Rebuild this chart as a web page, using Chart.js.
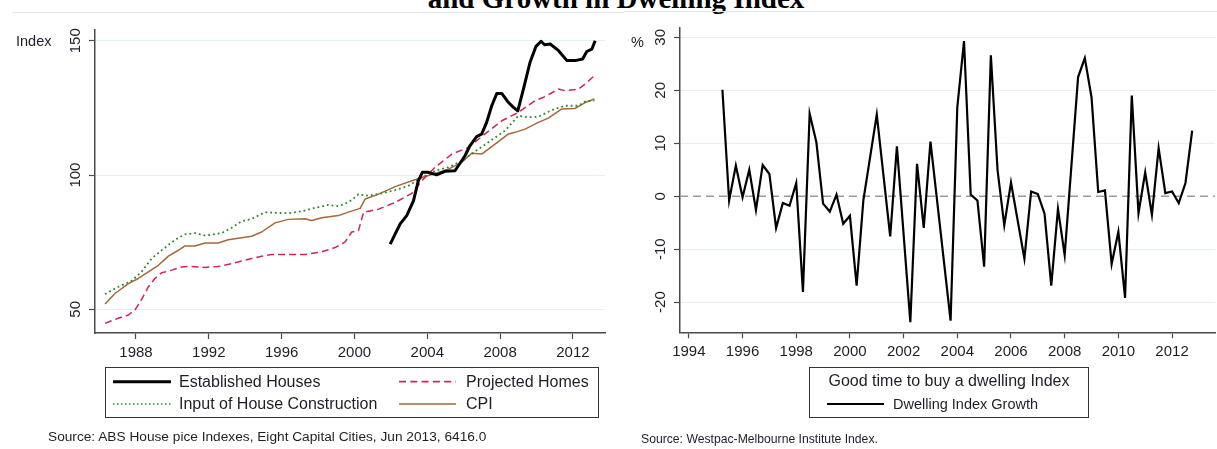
<!DOCTYPE html>
<html><head><meta charset="utf-8">
<script src="https://cdn.jsdelivr.net/npm/chart.js@4.4.0/dist/chart.umd.min.js"></script>
<style>
html,body{margin:0;padding:0;background:#fff;width:1217px;height:449px;overflow:hidden;font-family:'Liberation Sans',Arial,sans-serif;color:#1e1e28}
.abs{position:absolute;white-space:nowrap;line-height:1}
#c1{position:absolute;left:0;top:0}
#c2{position:absolute;left:612px;top:0}
.box{position:absolute;border:1px solid #333;box-sizing:border-box}
svg.ln{position:absolute;overflow:visible}
</style></head>
<body>
<div class="abs" style="left:0;width:1232px;text-align:center;top:-18.3px;font:bold 29px 'Liberation Serif',serif;color:#000">and Growth in Dwelling Index</div>
<div style="position:absolute;left:12px;top:12px;width:612px;height:1px;background:#e1e8eb"></div>
<div style="position:absolute;left:624px;top:11px;width:593px;height:1px;background:#e1e8eb"></div>

<canvas id="c1" width="612" height="449"></canvas>
<canvas id="c2" width="605" height="449"></canvas>

<div class="abs" style="left:16px;top:33.5px;font-size:14.5px">Index</div>
<div class="abs" style="left:631px;top:34.5px;font-size:14.5px">%</div>

<!-- left legend -->
<div class="box" style="left:105px;top:367px;width:494px;height:51px"></div>
<svg class="ln" style="left:113px;top:376px" width="58" height="12"><line x1="0" y1="5.7" x2="58" y2="5.7" stroke="#000" stroke-width="3"/></svg>
<div class="abs" style="left:179px;top:373.9px;font-size:16px">Established Houses</div>
<svg class="ln" style="left:399px;top:376px" width="57" height="12"><line x1="0" y1="5.7" x2="57" y2="5.7" stroke="#d42356" stroke-width="1.8" stroke-dasharray="7 4.3"/></svg>
<div class="abs" style="left:466px;top:373.9px;font-size:16px">Projected Homes</div>
<svg class="ln" style="left:113px;top:398px" width="58" height="12"><line x1="0" y1="6" x2="58" y2="6" stroke="#2a8a2a" stroke-width="1.5" stroke-dasharray="1.5 2.5"/></svg>
<div class="abs" style="left:179px;top:396.2px;font-size:16px">Input of House Construction</div>
<svg class="ln" style="left:399px;top:398px" width="57" height="12"><line x1="0" y1="6" x2="57" y2="6" stroke="#a5683a" stroke-width="1.6"/></svg>
<div class="abs" style="left:466px;top:396.2px;font-size:16px">CPI</div>
<div class="abs" style="left:47.7px;top:430.8px;font-size:12.5px;transform:scaleX(1.095);transform-origin:0 0">Source: ABS House pice Indexes, Eight Capital Cities, Jun 2013, 6416.0</div>

<!-- right legend -->
<div class="box" style="left:809px;top:367px;width:280px;height:51px"></div>
<div class="abs" style="left:809px;width:280px;text-align:center;top:373.2px;font-size:16px">Good time to buy a dwelling Index</div>
<svg class="ln" style="left:827px;top:398px" width="57" height="12"><line x1="0" y1="6" x2="57" y2="6" stroke="#000" stroke-width="2.2"/></svg>
<div class="abs" style="left:893px;top:396.7px;font-size:14.5px">Dwelling Index Growth</div>
<div class="abs" style="left:641px;top:433px;font-size:12.2px">Source: Westpac-Melbourne Institute Index.</div>

<script>
// ---------- Left chart data (index) ----------
const LEFT_X_TICKS = [1988, 1992, 1996, 2000, 2004, 2008, 2012];
const LEFT_Y_TICKS = [50, 100, 150];

const estYears = [2001.96,2002.51,2002.87,2003.24,2003.51,2003.73,2004.05,2004.51,2004.97,2005.52,2005.79,2006.07,2006.34,2006.71,2006.99,2007.26,2007.54,2007.82,2008.09,2008.46,2008.73,2008.97,2009.28,2009.64,2009.96,2010.25,2010.44,2010.75,2011.21,2011.67,2012.12,2012.53,2012.76,2013.04,2013.22];
const estValues = [74.3,81.8,84.9,90.4,97.9,101.0,101.0,100.1,101.4,101.6,104.3,107.2,110.9,114.3,115.3,119.6,125.8,130.4,130.4,127.0,125.2,123.9,132.0,141.9,147.8,149.8,148.5,148.8,146.3,142.6,142.6,143.2,146.0,146.9,150.0];

const projYears = [1986.3,1987.03,1987.58,1987.95,1988.31,1988.68,1989.04,1989.41,1989.96,1990.51,1991.06,1991.79,1992.52,1993.26,1993.8,1994.36,1994.9,1995.45,1996.37,1997.29,1998.2,1998.93,1999.48,1999.85,2000.22,2000.5,2001.32,2002.24,2003.15,2003.7,2004.43,2005.35,2006.26,2007.17,2008.09,2009.0,2009.92,2010.47,2011.2,2011.57,2012.3,2012.67,2013.18];
const projValues = [44.8,46.7,47.9,49.8,53.7,58.4,61.5,63.6,64.6,65.8,66.0,65.6,66.0,67.0,68.0,68.9,69.8,70.4,70.4,70.4,71.4,73.0,75.0,78.8,79.3,86.1,87.3,89.8,93.2,97.9,102.9,107.8,110.3,115.3,120.2,123.3,127.7,129.2,132.0,131.4,132.0,133.9,137.0];

const inputYears = [1986.3,1987.03,1987.76,1988.31,1988.86,1989.41,1990.14,1990.69,1991.24,1991.79,1992.71,1993.26,1993.8,1994.36,1995.09,1995.64,1996.37,1997.1,1997.84,1998.57,1999.12,1999.67,2000.03,2000.22,2000.59,2001.32,2002.24,2002.97,2003.7,2004.43,2005.16,2005.89,2006.62,2007.35,2008.27,2009.0,2009.55,2010.1,2010.84,2011.57,2012.3,2012.67,2013.18];
const inputValues = [55.7,58.4,60.6,64.0,68.9,72.0,75.9,77.9,78.4,77.5,78.4,80.4,82.8,83.7,86.2,85.9,85.8,86.5,87.8,88.9,88.4,89.9,91.7,92.9,92.3,92.9,94.4,96.0,99.1,101.6,102.9,105.3,108.8,112.2,116.5,122.1,121.5,121.7,124.2,125.8,125.8,127.4,127.7];

const cpiYears = [1986.3,1986.85,1987.58,1988.13,1988.68,1989.23,1989.78,1990.33,1990.69,1991.24,1991.79,1992.52,1993.07,1993.8,1994.36,1994.9,1995.64,1996.37,1997.29,1997.65,1998.2,1999.12,1999.67,2000.31,2000.59,2001.32,2002.24,2003.15,2003.7,2004.43,2005.16,2005.89,2006.44,2006.99,2007.72,2008.46,2008.82,2009.37,2010.1,2010.65,2011.39,2012.12,2012.67,2013.18];
const cpiValues = [52.0,55.9,59.6,61.5,64.0,66.4,69.8,72.0,73.6,73.6,74.7,74.7,75.9,76.7,77.2,78.8,82.2,83.5,83.7,83.1,84.1,84.9,86.2,87.6,91.1,92.9,95.7,97.9,99.1,100.6,102.2,104.7,108.1,107.8,111.5,115.3,115.9,117.1,119.6,121.2,124.6,124.8,127.0,128.3];

// ---------- Right chart data (% growth) ----------
const RIGHT_X_TICKS = [1994, 1996, 1998, 2000, 2002, 2004, 2006, 2008, 2010, 2012];
const RIGHT_Y_TICKS = [-20, -10, 0, 10, 20, 30];
const ZERO_REF = 0;

const dwYears = [1995.25,1995.5,1995.75,1996.0,1996.25,1996.5,1996.75,1997.0,1997.25,1997.5,1997.75,1998.0,1998.25,1998.5,1998.75,1999.0,1999.25,1999.5,1999.75,2000.0,2000.25,2000.5,2001.0,2001.5,2001.75,2002.25,2002.5,2002.75,2003.0,2003.75,2004.0,2004.25,2004.5,2004.75,2005.0,2005.25,2005.5,2005.75,2006.0,2006.5,2006.75,2007.0,2007.25,2007.5,2007.75,2008.0,2008.5,2008.75,2009.0,2009.25,2009.5,2009.75,2010.0,2010.25,2010.5,2010.75,2011.0,2011.25,2011.5,2011.75,2012.0,2012.25,2012.5,2012.75];
const dwValues = [20.1,-0.8,5.8,-0.2,5.0,-2.6,5.9,4.2,-6.0,-1.3,-1.8,2.5,-18.1,15.6,10.2,-1.4,-2.9,0.3,-5.2,-3.7,-16.9,-0.8,15.4,-7.6,9.4,-23.8,6.1,-6.0,10.3,-23.5,16.8,29.3,0.3,-0.8,-13.3,26.6,4.9,-5.5,2.6,-11.8,0.9,0.4,-3.3,-16.9,-2.4,-11.1,22.5,26.1,18.7,0.8,1.1,-12.8,-6.7,-19.2,19.0,-3.2,4.5,-3.5,9.1,0.6,0.9,-1.3,2.5,12.4];

// ---------- helpers ----------
const pts = (xs, ys) => xs.map((x, i) => ({x: x, y: ys[i]}));
const FONT = 'Liberation Sans';
const AXIS = '#4a4a4a';
const GRID = '#e6eff0';
const TXT = '#1e1e28';

function xScale(min, max, ticks, height) {
  return {
    type: 'linear', min: min, max: max,
    afterBuildTicks: s => { s.ticks = ticks.map(v => ({value: v})); },
    afterFit: s => { s.height = height; },
    ticks: {autoSkip: false, maxRotation: 0, minRotation: 0, padding: 5, color: TXT,
            font: {family: FONT, size: 15}, callback: v => String(v)},
    grid: {drawOnChartArea: false, tickLength: 6, tickColor: AXIS, tickWidth: 1.2},
    border: {color: AXIS, width: 1.5}
  };
}
function yScale(min, max, ticks, width, pad, gridColor) {
  return {
    type: 'linear', min: min, max: max,
    afterBuildTicks: s => { s.ticks = ticks.map(v => ({value: v})); },
    afterFit: s => { s.width = width; },
    ticks: {minRotation: 90, maxRotation: 90, crossAlign: 'center', padding: pad, color: TXT,
            font: {family: FONT, size: 15}, callback: v => String(v)},
    grid: {color: gridColor, lineWidth: 1, tickLength: 6, tickColor: AXIS, tickWidth: 1.2},
    border: {color: AXIS, width: 1.5}
  };
}

Chart.defaults.font.family = FONT;

new Chart(document.getElementById('c1'), {
  type: 'line',
  data: {
    datasets: [
      {label: 'Established Houses', data: pts(estYears, estValues), borderColor: '#000', borderWidth: 3},
      {label: 'Projected Homes', data: pts(projYears, projValues), borderColor: '#d42356', borderWidth: 1.5, borderDash: [7, 4]},
      {label: 'Input of House Construction', data: pts(inputYears, inputValues), borderColor: '#2a8a2a', borderWidth: 1.8, borderDash: [1.8, 3]},
      {label: 'CPI', data: pts(cpiYears, cpiValues), borderColor: '#a5683a', borderWidth: 1.5}
    ]
  },
  options: {
    responsive: false, animation: false, devicePixelRatio: 1,
    parsing: false,
    elements: {point: {radius: 0}, line: {tension: 0, borderCapStyle: 'butt', borderJoinStyle: 'round'}},
    layout: {padding: {left: 0, right: 7, top: 30, bottom: 86}},
    plugins: {legend: {display: false}, tooltip: {enabled: false}},
    scales: {
      x: xScale(1985.75, 2013.76, LEFT_X_TICKS, 30),
      y: yScale(41.2, 154, LEFT_Y_TICKS, 95, 1, GRID)
    }
  }
});

const zeroLine = {
  id: 'zeroLine',
  beforeDatasetsDraw(chart) {
    const {ctx, chartArea: a, scales: {y}} = chart;
    const py = y.getPixelForValue(ZERO_REF);
    ctx.save();
    ctx.strokeStyle = '#9a9a9a'; ctx.lineWidth = 1.5; ctx.setLineDash([8, 5]);
    ctx.beginPath(); ctx.moveTo(a.left, py); ctx.lineTo(a.right, py); ctx.stroke();
    ctx.restore();
  }
};

new Chart(document.getElementById('c2'), {
  type: 'line',
  data: {
    datasets: [
      {label: 'Dwelling Index Growth', data: pts(dwYears, dwValues), borderColor: '#000', borderWidth: 2.2}
    ]
  },
  options: {
    responsive: false, animation: false, devicePixelRatio: 1,
    parsing: false,
    elements: {point: {radius: 0}, line: {tension: 0, borderJoinStyle: 'miter'}},
    layout: {padding: {left: 0, right: 2, top: 27.3, bottom: 86.7}},
    plugins: {legend: {display: false}, tooltip: {enabled: false}},
    scales: {
      x: xScale(1993.67, 2013.6, RIGHT_X_TICKS, 30),
      y: yScale(-25.7, 31.9, RIGHT_Y_TICKS, 68, 2.7,
        c => (c.tick && c.tick.value === ZERO_REF) ? 'rgba(0,0,0,0)' : GRID)
    }
  },
  plugins: [zeroLine]
});
</script>
</body></html>
